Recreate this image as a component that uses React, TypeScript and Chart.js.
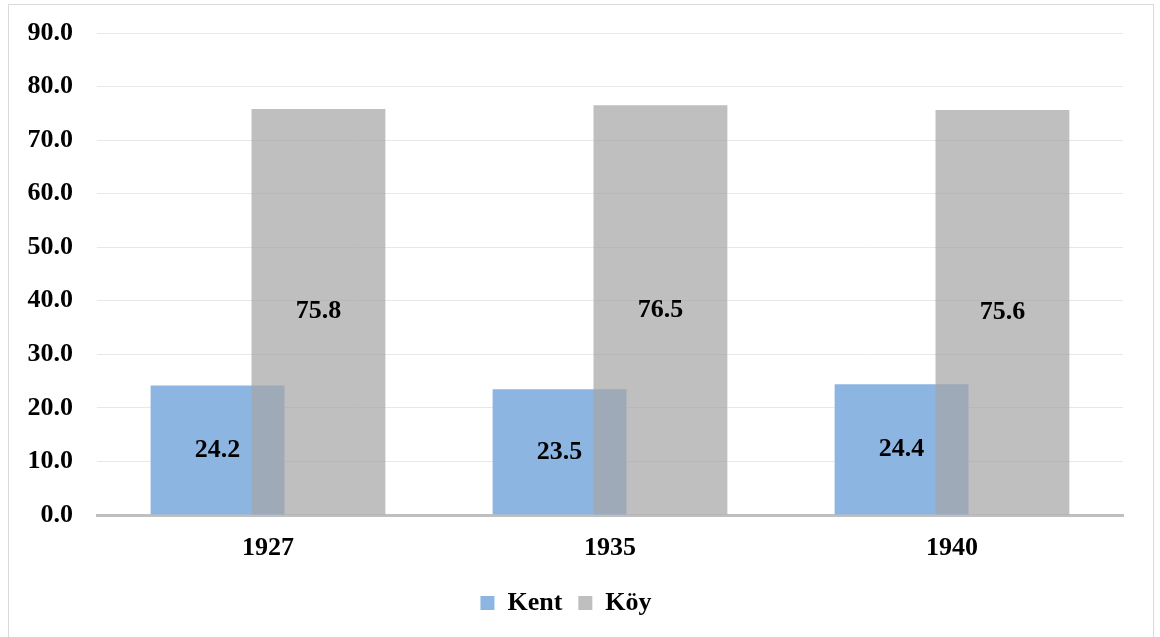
import React, { useEffect, useRef } from "react";
import { Chart, registerables } from "chart.js";

Chart.register(...registerables);

const categories = ["1927", "1935", "1940"];
const kentValues = [24.2, 23.5, 24.4];
const koyValues = [75.8, 76.5, 75.6];
const seriesNames = ["Kent", "Köy"];
const yMax = 90;
const yStep = 10;

const FONT = "'Liberation Serif', 'Times New Roman', serif";

// Draw the second series (Köy) above the first so its translucent fill
// tints the overlap, then write the value labels on top.
const overlapAndLabels = {
  id: "overlapAndLabels",
  beforeDatasetDraw(chart: any, args: any) {
    if (args.index === 1 && !chart.$lateDraw) return false;
  },
  afterDatasetsDraw(chart: any) {
    const meta = chart.getDatasetMeta(1);
    if (meta && !meta.hidden) {
      chart.$lateDraw = true;
      meta.controller.draw();
      chart.$lateDraw = false;
    }
    const ctx = chart.ctx;
    ctx.save();
    ctx.font = `bold 26px ${FONT}`;
    ctx.fillStyle = "#000";
    ctx.textAlign = "center";
    ctx.textBaseline = "middle";
    chart.data.datasets.forEach((ds: any, di: number) => {
      const m = chart.getDatasetMeta(di);
      m.data.forEach((bar: any, i: number) => {
        const v = ds.data[i];
        const y = (bar.y + bar.base) / 2;
        ctx.fillText(Number(v).toFixed(1), bar.x, y);
      });
    });
    ctx.restore();
  },
};

export default function App() {
  const ref = useRef<HTMLCanvasElement>(null);
  useEffect(() => {
    if (!ref.current) return;
    const chart = new Chart(ref.current, {
      type: "bar",
      data: {
        labels: categories,
        datasets: [
          {
            label: seriesNames[0],
            data: kentValues,
            backgroundColor: "rgb(141,181,226)",
            categoryPercentage: 0.59,
            barPercentage: 1.327,
          },
          {
            label: seriesNames[1],
            data: koyValues,
            backgroundColor: "rgba(165,165,165,0.71)",
            categoryPercentage: 0.59,
            barPercentage: 1.327,
          },
        ],
      },
      options: {
        responsive: false,
        animation: false,
        devicePixelRatio: 1,
        layout: { padding: { top: 28, right: 30, bottom: 17, left: 0 } },
        scales: {
          x: {
            grid: { display: false },
            border: { display: true, color: "#bfbfbf", width: 3 },
            ticks: {
              color: "#000",
              font: { family: FONT, size: 26, weight: "bold" },
              padding: 10,
              maxRotation: 0,
            },
            afterFit(scale: any) {
              scale.height = 59;
            },
          },
          y: {
            min: 0,
            max: yMax,
            border: { display: false },
            grid: { color: "#e8e8e8", lineWidth: 1, drawTicks: false },
            ticks: {
              stepSize: yStep,
              color: "#000",
              padding: 24,
              font: { family: FONT, size: 26, weight: "bold" },
              callback: (v: any) => Number(v).toFixed(1),
            },
            afterFit(scale: any) {
              scale.width = 88;
              scale.paddingTop = 0;
              scale.paddingBottom = 0;
            },
          },
        },
        plugins: {
          legend: {
            position: "bottom",
            labels: {
              color: "#000",
              boxWidth: 14,
              boxHeight: 14,
              padding: 16,
              font: { family: FONT, size: 26, weight: "bold" },
            },
          },
          tooltip: { enabled: false },
        },
      },
      plugins: [overlapAndLabels],
    });
    return () => chart.destroy();
  }, []);

  return (
    <div
      style={{
        position: "absolute",
        left: 8,
        top: 4,
        width: 1146,
        height: 640,
        border: "1px solid #d9d9d9",
        boxSizing: "border-box",
        background: "#fff",
      }}
    >
      <canvas ref={ref} width={1144} height={638} style={{ display: "block" }} />
    </div>
  );
}
